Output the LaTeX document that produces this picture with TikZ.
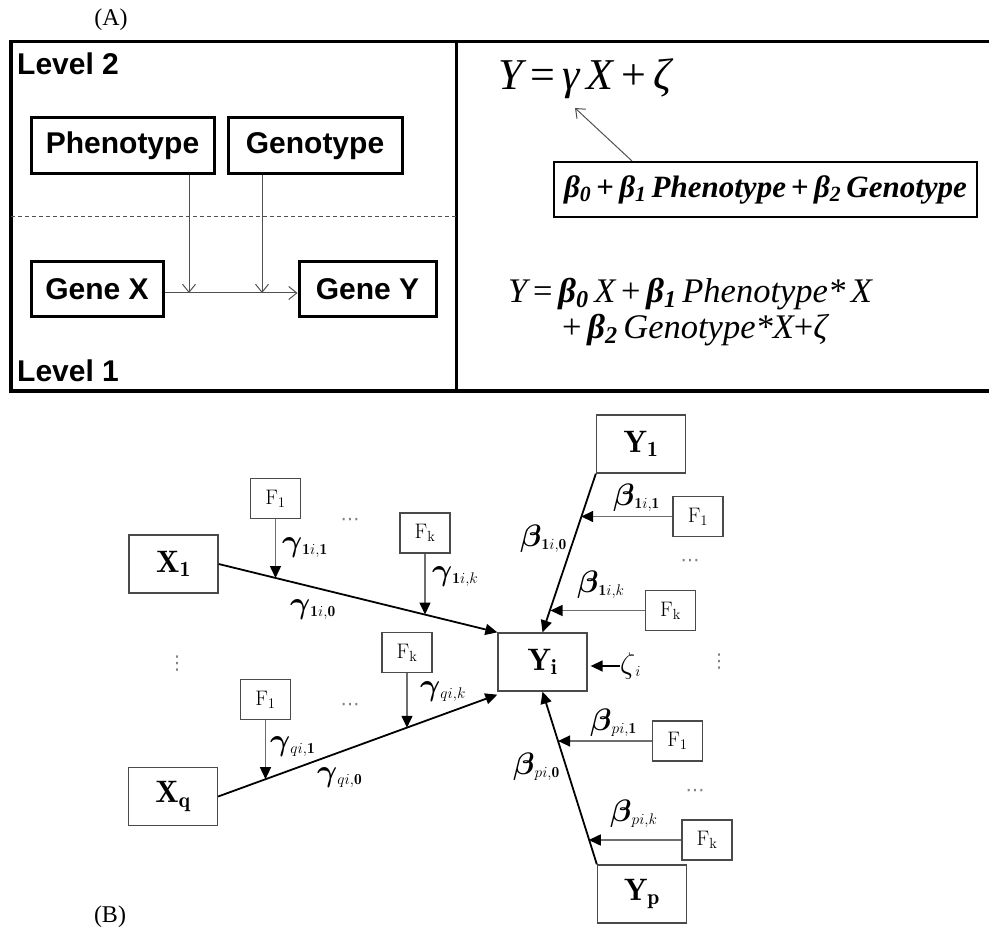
\RequirePackage{fix-cm}
\documentclass[tikz,border=0pt]{standalone}
\usepackage{amsmath}
\usepackage{bm}
\usepackage{fontspec}
\newfontfamily\arialfont{Liberation Sans}
\newfontfamily\timesfont{Liberation Serif}
\newfontfamily\symfont{DejaVu Sans}
\usetikzlibrary{arrows.meta,calc}

\definecolor{lvlgray}{HTML}{505050}
\definecolor{boxgray}{HTML}{4A4A4A}
\definecolor{fgray}{HTML}{6E6E6E}

% coefficient: large bold Greek letter with a smaller subscript
\newcommand\coefsym[2]{{\fontsize{31}{36}\selectfont$\boldsymbol{#1}$}{\fontsize{22}{26}\selectfont${}_{#2}$}}

\tikzset{
  lvlbox/.style={draw=black, line width=3pt, inner sep=0pt,
    font=\arialfont\bfseries\fontsize{30}{36}\selectfont},
  lvltext/.style={anchor=base west, inner sep=0pt,
    font=\arialfont\bfseries\fontsize{30}{36}\selectfont},
  modarrow/.style={draw=lvlgray, line width=1pt,
    -{Straight Barb[length=8pt,width=13pt]}},
  eqtext/.style={anchor=base west, inner sep=0pt},
  varbox/.style={draw=boxgray, line width=1.3pt, minimum width=89pt,
    minimum height=58pt, inner sep=0pt, font=\fontsize{31}{36}\selectfont},
  facbox/.style={draw=boxgray, line width=1.2pt, minimum width=50pt,
    minimum height=40pt, inner sep=0pt, font=\fontsize{21}{25}\selectfont},
  pathline/.style={draw=black, line width=1.8pt,
    -{Triangle[length=12pt,width=11pt]}},
  facarrow/.style={draw=fgray, line width=1.5pt,
    -{Triangle[length=12pt,width=11pt,color=black]}},
  coef/.style={inner sep=0pt, anchor=base west},
  dotsnode/.style={text=gray, inner sep=0pt, font=\symfont\fontsize{19}{22}\selectfont},
  paneltag/.style={inner sep=0pt, font=\timesfont\fontsize{24}{28}\selectfont},
}

\begin{document}
\begin{tikzpicture}[x=1pt,y=-1pt]
\useasboundingbox (0,0) rectangle (989,928);

% ---------------- panel (A) ----------------
\node[paneltag] (tagA) at (111,20) {(A)};

% frame and level divider
\draw[line width=3.5pt] (989,41.5) -- (11,41.5) -- (11,391) -- (989,391);
\draw[line width=3pt] (456,41.5) -- (456,391);
\draw[lvlgray, line width=1pt, dash pattern=on 4pt off 3pt] (11,217) -- (456,217);

\node[lvltext] (lvltwo) at (17,75) {Level 2};
\node[lvltext] (lvlone) at (17,381.5) {Level 1};

\node[lvlbox, minimum width=183pt, minimum height=56pt] (pheno) at (122.5,146) {Phenotype};
\node[lvlbox, minimum width=174pt, minimum height=56pt] (geno) at (315,146) {Genotype};
\node[lvlbox, minimum width=132pt, minimum height=55pt] (gx) at (97,289.5) {Gene X};
\node[lvlbox, minimum width=137pt, minimum height=55pt] (gy) at (367.5,289.5) {Gene Y};

\coordinate (m1) at (189,293);
\coordinate (m2) at (262,293);
\draw[modarrow] (pheno.south -| m1) -- (m1);
\draw[modarrow] (geno.south -| m2) -- (m2);
\draw[modarrow] (gx.east |- m1) -- (gy.west |- m1);

% equations
\node[eqtext, font=\timesfont\itshape\fontsize{44}{50}\selectfont] (eqone) at (498,90)
  {Y{\upshape\,=\,}γ\,X{\upshape\,+\,}ζ};
\coordinate (gam) at (575,108);
\node[draw=black, line width=2pt, minimum width=423pt, minimum height=55pt, inner sep=0pt,
  font=\timesfont\bfseries\itshape\fontsize{31}{36}\selectfont] (mbox) at (765.5,189.5)
  {β\textsubscript{0}{\upshape\,+\,}β\textsubscript{1}\,Phenotype{\upshape\,+\,}β\textsubscript{2}\,Genotype};
\draw[modarrow] ([xshift=-133.5pt]mbox.north) -- (gam);

\node[eqtext, align=left, font=\timesfont\itshape\fontsize{34.5}{35.5}\selectfont] (eqtwo) at (508,338)
  {Y{\upshape\,=\,}\textbf{β\textsubscript{0}}\,X{\upshape\,+\,}\textbf{β\textsubscript{1}}\,Phenotype*\,X\\
   \hspace*{54pt}{\upshape +\,}\textbf{β\textsubscript{2}}\,Genotype*X{\upshape +}ζ};

% ---------------- panel (B) ----------------
\node[paneltag] (tagB) at (110,917) {(B)};

\node[varbox] (x1) at (173.5,564) {$\mathbf{X}_{\mathbf{1}}$};
\node[varbox] (xq) at (173,796.5) {$\mathbf{X}_{\mathbf{q}}$};
\node[varbox] (yi) at (542.5,662) {$\mathbf{Y}_{\mathbf{i}}$};
\node[varbox] (y1) at (641,444) {$\mathbf{Y}_{\mathbf{1}}$};
\node[varbox] (yp) at (642,894) {$\mathbf{Y}_{\mathbf{p}}$};

\node[facbox] (f1a) at (275.5,498.5) {$\mathrm{F}_1$};
\node[facbox] (fka) at (425,533) {$\mathrm{F}_\mathrm{k}$};
\node[facbox] (fkb) at (407,652.5) {$\mathrm{F}_\mathrm{k}$};
\node[facbox] (f1b) at (265.5,699.5) {$\mathrm{F}_1$};
\node[facbox] (f1c) at (698,516.5) {$\mathrm{F}_1$};
\node[facbox] (fkc) at (670.5,610.5) {$\mathrm{F}_\mathrm{k}$};
\node[facbox] (f1d) at (677.5,741) {$\mathrm{F}_1$};
\node[facbox] (fkd) at (707,840) {$\mathrm{F}_\mathrm{k}$};

% direct paths into Y_i
\draw[pathline] (x1.east) -- (yi.north west);
\draw[pathline] (xq.east) -- ([yshift=-3pt]yi.south west);
\draw[pathline] (y1.south west) -- (yi.north);
\draw[pathline] (yp.north west) -- (yi.south);

% moderator arrows onto the paths
\coordinate (pa) at ($(x1.east)!0.205!(yi.north west)$);
\coordinate (pb) at ($(x1.east)!0.739!(yi.north west)$);
\coordinate (pc) at ($(xq.east)!0.17!([yshift=-3pt]yi.south west)$);
\coordinate (pd) at ($(xq.east)!0.675!([yshift=-3pt]yi.south west)$);
\coordinate (pe) at ($(y1.south west)!0.275!(yi.north)$);
\coordinate (pf) at ($(y1.south west)!0.85!(yi.north)$);
\coordinate (pg) at ($(yp.north west)!0.713!(yi.south)$);
\coordinate (ph) at ($(yp.north west)!0.149!(yi.south)$);

\draw[facarrow] (f1a.south) -- (f1a.south |- pa);
\draw[facarrow] (fka.south) -- (fka.south |- pb);
\draw[facarrow] (f1b.south) -- (f1b.south |- pc);
\draw[facarrow] (fkb.south) -- (fkb.south |- pd);
\draw[facarrow] (f1c.west) -- (f1c.west -| pe);
\draw[facarrow] (fkc.west) -- (fkc.west -| pf);
\draw[facarrow] (f1d.west) -- (f1d.west -| pg);
\draw[facarrow] (fkd.west) -- (fkd.west -| ph);

% error term
\node[anchor=west, inner sep=0pt] (zeta) at (620,666)
  {{\fontsize{30}{34}\selectfont$\zeta$}{\fontsize{22}{26}\selectfont${}_i$}};
\draw[draw=black, line width=1.4pt, shorten >=3pt, -{Triangle[length=12pt,width=11pt]}]
  (zeta.west) -- (zeta.west -| yi.east);

% coefficient labels
\node[coef] (g11) at (282,551) {\coefsym{\gamma}{\mathbf{1}i,\mathbf{1}}};
\node[coef] (g10) at (290,613) {\coefsym{\gamma}{\mathbf{1}i,\mathbf{0}}};
\node[coef] (g1k) at (432,580) {\coefsym{\gamma}{\mathbf{1}i,k}};
\node[coef] (gqk) at (420,695) {\coefsym{\gamma}{qi,k}};
\node[coef] (gq1) at (270,750) {\coefsym{\gamma}{qi,\mathbf{1}}};
\node[coef] (gq0) at (317,781) {\coefsym{\gamma}{qi,\mathbf{0}}};
\node[coef] (b11) at (613,505) {\coefsym{\beta}{\mathbf{1}i,\mathbf{1}}};
\node[coef] (b10) at (520,546) {\coefsym{\beta}{\mathbf{1}i,\mathbf{0}}};
\node[coef] (b1k) at (577,592) {\coefsym{\beta}{\mathbf{1}i,k}};
\node[coef] (bp1) at (590,730) {\coefsym{\beta}{pi,\mathbf{1}}};
\node[coef] (bp0) at (513,774) {\coefsym{\beta}{pi,\mathbf{0}}};
\node[coef] (bpk) at (610,821) {\coefsym{\beta}{pi,k}};

% ellipses
\node[dotsnode] (da) at (350,522) {⋯};
\node[dotsnode] (db) at (350,707) {⋯};
\node[dotsnode] (dc) at (690,563) {⋯};
\node[dotsnode] (dd) at (695,793) {⋯};
\node[dotsnode] (de) at (177,664) {⋮};
\node[dotsnode] (df) at (719,662) {⋮};
\end{tikzpicture}
\end{document}
